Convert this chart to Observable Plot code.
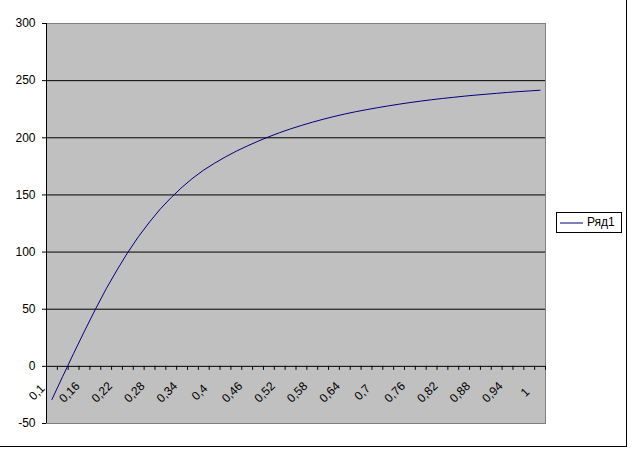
<!DOCTYPE html>
<html>
<head>
<meta charset="utf-8">
<script src="https://cdn.jsdelivr.net/npm/d3@7"></script>
<script src="https://cdn.jsdelivr.net/npm/@observablehq/plot@0.6"></script>
<style>
  html, body { margin: 0; padding: 0; background: #fff; }
  #wrap { position: relative; width: 632px; height: 450px; font-family: Arial, "Liberation Sans", sans-serif; }
  #border { position: absolute; left: 0; top: 0; width: 626px; height: 446px; border-right: 1px solid #000; border-bottom: 1px solid #000; pointer-events: none; }
  #legend { position: absolute; left: 556px; top: 212px; width: 64px; height: 19px; border: 1px solid #000; background: #fff; font-size: 12px; }
  #legend svg { position: absolute; left: 3px; top: 9px; }
  #legend span { position: absolute; left: 30px; top: 2px; color: #000; }
</style>
</head>
<body>
<div id="wrap">
  <div id="chart"></div>
  <div id="legend"><svg width="24" height="2"><line x1="0" y1="1" x2="23" y2="1" stroke="#000080" stroke-width="1"/></svg><span>Ряд1</span></div>
  <div id="border"></div>
</div>
<script>
const categories = [0.1,0.12,0.14,0.16,0.18,0.2,0.22,0.24,0.26,0.28,0.3,0.32,0.34,0.36,0.38,0.4,0.42,0.44,0.46,0.48,0.5,0.52,0.54,0.56,0.58,0.6,0.62,0.64,0.66,0.68,0.7,0.72,0.74,0.76,0.78,0.8,0.82,0.84,0.86,0.88,0.9,0.92,0.94,0.96,0.98,1];
const series1 = [-29,-8.7,11.3,30.8,49.8,67.8,84.3,99.8,113.8,126.3,137.8,147.8,156.8,164.8,171.8,177.8,183.3,188.3,192.8,197,200.9,204.5,207.8,210.8,213.6,216.2,218.6,220.8,222.8,224.6,226.3,227.9,229.4,230.8,232.1,233.3,234.4,235.4,236.4,237.3,238.1,238.9,239.7,240.4,241,241.6];
const xTickLabels = ["0,1","0,16","0,22","0,28","0,34","0,4","0,46","0,52","0,58","0,64","0,7","0,76","0,82","0,88","0,94","1"];
const yTicks = [-50,0,50,100,150,200,250,300];
const gridValues = [50,100,150,200,250];
const seriesName = "Ряд1";

const n = categories.length;
const data = categories.map((c, i) => ({i, c, v: series1[i]}));
const labelData = xTickLabels.map(t => {
  const val = +t.replace(",", ".");
  const i = categories.findIndex(c => Math.abs(c - val) < 1e-9);
  return {i, t};
});
const boundaries = d3.range(n + 1);

const chart = Plot.plot({
  width: 632,
  height: 450,
  marginLeft: 46,
  marginRight: 87,
  marginTop: 23,
  marginBottom: 27,
  style: {background: "transparent", fontFamily: "Arial, 'Liberation Sans', sans-serif", fontSize: "12px", color: "#000"},
  x: {domain: [0, n], axis: null},
  y: {domain: [-50, 300], ticks: yTicks, tickSize: 4, tickPadding: 7, tickFormat: d => String(d), label: null},
  marks: [
    Plot.frame({fill: "#c0c0c0", stroke: null}),
    Plot.ruleY(gridValues, {stroke: "#000", strokeWidth: 1}),
    Plot.frame({stroke: "#808080", fill: null}),
    Plot.ruleX([0], {stroke: "#000"}),
    Plot.ruleY([0], {stroke: "#000"}),
    Plot.ruleX(boundaries, {x: d => d, y1: 0, y2: -3.5, stroke: "#000"}),
    Plot.line(data, {x: d => d.i + 0.5, y: "v", stroke: "#000080", strokeWidth: 1}),
    Plot.text(labelData, {x: d => d.i + 0.5, y: () => 0, text: "t", rotate: -45, dx: -15, dy: 26, fontSize: 12, fill: "#000"})
  ]
});
document.getElementById("chart").appendChild(chart);
</script>
</body>
</html>
